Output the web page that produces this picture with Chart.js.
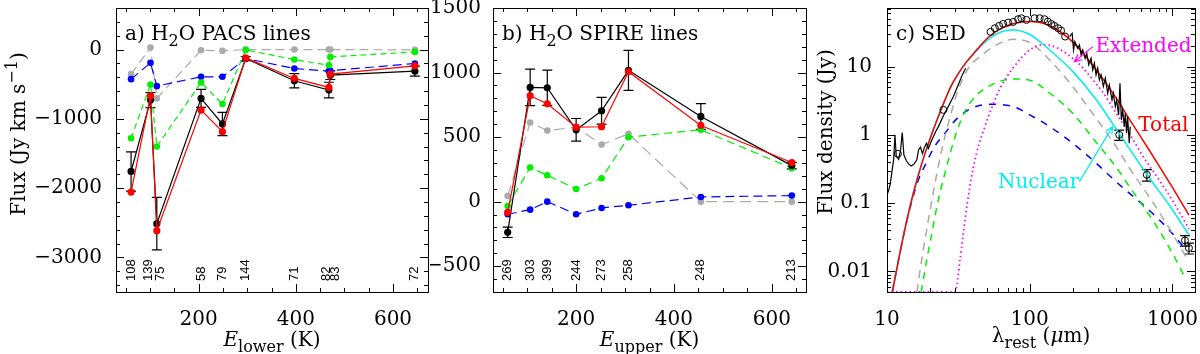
<!DOCTYPE html>
<html>
<head>
<meta charset="utf-8">
<title>H2O lines and SED</title>
<script src="https://cdn.jsdelivr.net/npm/chart.js@4.4.1/dist/chart.umd.min.js"></script>
<style>
  body { margin: 0; background: #fff; }
  #wrap { position: relative; width: 1200px; height: 354px; }
  #wrap canvas { position: absolute; left: 0; top: 0; }
</style>
</head>
<body>
<div id="wrap">
  <canvas id="pacs" width="1200" height="354"></canvas>
  <canvas id="spire" width="1200" height="354"></canvas>
  <canvas id="sed" width="1200" height="354"></canvas>
</div>
<script>
// ---- a) H2O PACS lines (flux vs E_lower) ----
const pacsWave = ['108', '139', '75', '58', '79', '144', '71', '82', '83', '72'];
const pacsElow = [61, 101, 114, 205, 249, 297, 397, 468, 471, 645];
const pacsObs = [-1760, -729, -2513, -705, -1074, -130, -451, -585, -370, -312];
const pacsObsErr = [283, 108, 379, 130, 168, 30, 103, 113, 62, 72];
const pacsTotal = [-2058, -667, -2614, -873, -1185, -120, -417, -547, -355, -235];
const pacsGreen = [-1281, -504, -1400, -475, -787, -5, -144, -226, -106, -34];
const pacsBlue = [-427, -192, -528, -393, -393, -130, -273, -312, -305, -201];
const pacsGray = [-355, 29, -705, -10, -19, 0, 0, 0, 0, -5];

// ---- b) H2O SPIRE lines (flux vs E_upper) ----
const spireWave = ['269', '303', '399', '244', '273', '258', '248', '213'];
const spireEup = [60, 106, 141, 200, 252, 307, 455, 641];
const spireObs = [-238, 885, 882, 556, 704, 1017, 660, 279];
const spireObsErr = [40, 142, 137, 88, 103, 155, 100, 25];
const spireTotal = [-83, 820, 758, 577, 580, 1006, 590, 303];
const spireGreen = [-34, 264, 204, 98, 181, 499, 557, 259];
const spireBlue = [-98, -62, 0, -98, -49, -28, 36, 47];
const spireGray = [44, 613, 551, 577, 442, 525, 0, 0];

// ---- c) SED ----
const irsWave = [10.0, 10.26, 10.54, 10.83, 11.13, 11.37, 11.61, 12.06, 12.45, 12.79, 13.13, 13.64, 14.16, 14.77, 15.42, 16.18,
  16.63, 17.17, 17.73, 18.31, 18.9, 19.5, 20.27, 21.15, 21.96, 22.92, 24.84, 26.9, 29.2, 31.6, 33.7, 35.6];
const irsFlux = [0.132, 0.153, 0.191, 0.29, 0.43, 1.0, 0.49, 0.44, 0.6, 1.08, 0.51, 0.42, 0.376, 0.35, 0.37, 0.43,
  0.6, 0.66, 0.53, 0.66, 0.755, 0.63, 0.77, 0.944, 1.12, 1.32, 1.9, 2.6, 3.64, 5.4, 7.55, 9.46];
const ftsWave = [190.3, 198.4, 202.8, 207.2, 217.3, 223.2, 229.2, 235.4, 244.5, 251.1, 259.3, 269.2, 276.5, 284, 291.7, 299.6,
  307.7, 316.2, 328.3, 338.8, 352, 361.5, 377.4, 385.4, 398.1, 406.7, 419.8, 429.2, 438.6, 448.2, 460.2, 467.4, 477.5, 485.4, 498.5, 506.7];
const ftsFlux = [27.5, 30.7, 17.5, 23.2, 18.5, 20.7, 14.8, 17.5, 13.2, 15.7, 10.6, 13.2, 8.9, 11.2, 7.55, 9.45,
  6.38, 7.55, 5.1, 6.75, 4.07, 5.39, 3.25, 4.07, 2.6, 3.25, 1.96, 5.7, 1.66, 2.32, 1.32, 2.07, 1.06, 1.85, 0.755, 1.32];
const photWave = [11.93, 24.84, 53.2, 57.0, 61.1, 65.2, 70.6, 76.5, 82.9, 87.5, 94.8, 108, 117.5, 127, 134, 142, 149, 158, 166, 177,
  424, 662, 1225, 1306];
const photFlux = [0.527, 2.32, 32.2, 36.4, 39.4, 42.1, 44.0, 45.0, 49.3, 51, 48.2, 51, 51, 49.3, 45.6, 42, 39.4, 36.4, 33.6, 27.5,
  1.0, 0.26, 0.0284, 0.022];
const photErr = [0, 0, 0, 0, 0, 0, 0, 0, 0, 0, 0, 0, 0, 0, 0, 0, 0, 0, 0, 0, 0.17, 0.05, 0.005, 0.004];

const totalWave = [10.9, 12.05, 13.4, 14.9, 16.6, 18.5, 20.6, 22.9, 25.5, 28.4, 31.6, 36.2, 42, 47.2, 52.6, 61.8, 70, 80.7, 100,
  138, 200, 292, 402, 499, 687, 898, 1000, 1307];
const totalFlux = [0.005, 0.0148, 0.043, 0.112, 0.26, 0.54, 1.03, 1.85, 3.25, 5.4, 7.9, 11.8, 17, 22.5, 28, 35, 40, 43.5, 45.5,
  39.5, 23, 9, 3.5, 1.7, 0.6, 0.245, 0.17, 0.067];
const nuclearWave = [10.9, 12.05, 13.4, 14.9, 16.6, 18.5, 20.6, 22.9, 25.5, 28.4, 31.6, 36.2, 42, 47.2, 52.6, 58.6, 67, 76.5, 100,
  138, 200, 292, 382, 499, 665, 1000, 1307];
const nuclearFlux = [0.005, 0.0148, 0.043, 0.112, 0.26, 0.54, 1.03, 1.85, 3.25, 5.4, 7.9, 11.8, 16.8, 21.5, 26, 30, 33.5, 34.4, 29.5,
  17.5, 8.5, 3.3, 1.45, 0.63, 0.26, 0.08, 0.034];
const extendedWave = [10, 30, 32.5, 35.2, 38.1, 42.4, 48.5, 54.6, 62, 76.4, 100, 124, 138, 171, 206, 236, 292, 325, 402, 499,
  617, 852, 1000, 1307];
const extendedFlux = [0.005, 0.005, 0.0148, 0.057, 0.175, 0.54, 1.32, 2.6, 4.8, 9.5, 17.5, 20.8, 20.5, 16.8, 12.5, 9.5, 5.6, 4.2,
  2.1, 1.05, 0.5, 0.185, 0.11, 0.042];
const grayWave = [16.2, 17.5, 19.5, 21.7, 24.2, 27.7, 31.6, 37, 44.8, 58.6, 76.4, 100, 138, 200, 292, 402, 499, 725, 1000, 1240];
const grayFlux = [0.005, 0.0148, 0.057, 0.196, 0.6, 1.85, 4.56, 9.3, 14, 20.8, 25, 22.5, 12.5, 5.1, 1.75, 0.68, 0.33, 0.105, 0.036, 0.0165];
const greenWave = [17.35, 19.0, 20.6, 22.9, 26.2, 30, 35.2, 41.3, 54, 76.4, 100, 138, 200, 292, 402, 499, 725, 1000, 1240];
const greenFlux = [0.005, 0.0148, 0.036, 0.112, 0.343, 0.944, 2.2, 3.6, 5.4, 6.6, 6.3, 4.1, 2.07, 0.78, 0.34, 0.175, 0.057, 0.0185, 0.0078];
const blueWave = [10.9, 12.05, 13.4, 14.9, 16.6, 18.5, 21.7, 25.5, 31.6, 39.2, 52.6, 76.4, 100, 138, 200, 292, 402, 499, 725, 1000, 1240];
const blueFlux = [0.005, 0.0148, 0.043, 0.105, 0.22, 0.36, 0.69, 1.06, 1.81, 2.46, 2.8, 2.6, 1.96, 1.32, 0.755, 0.385, 0.207, 0.14,
  0.071, 0.036, 0.0207];

const sedNotes = [
  { text: 'Extended', color: '#ff00ff', at: [289, 16.4], from: [277, 19.6], to: [206, 11.8] },
  { text: 'Total', color: '#ff0000', at: [577, 1.12] },
  { text: 'Nuclear', color: '#00eeee', at: [59.9, 0.166], from: [223, 0.207], to: [381, 1.32] }
];

const SERIF = '"DejaVu Serif", serif';
const SANS = '"Liberation Sans", Arial, sans-serif';
Chart.defaults.font.family = SERIF;
Chart.defaults.color = '#000';

function pts(xs, ys) {
  return xs.map((x, i) => ({ x: x, y: ys[i] }));
}

function markerLine(xs, ys, color, dash, r) {
  return {
    data: pts(xs, ys), borderColor: color, backgroundColor: color, borderWidth: 1.2,
    borderDash: dash, pointRadius: r, pointBorderWidth: 0, pointBackgroundColor: color, tension: 0
  };
}

function curve(xs, ys, color, dash, width) {
  return {
    data: pts(xs, ys), borderColor: color, borderWidth: width, borderDash: dash,
    pointRadius: 0, cubicInterpolationMode: 'monotone'
  };
}

function axis(type, min, max, major, labelFn, pad, fit) {
  return {
    type: type, min: min, max: max,
    grid: { display: false, drawTicks: false },
    border: { display: false },
    ticks: { color: '#000', font: { family: SERIF, size: 20 }, padding: pad, autoSkip: false,
      maxRotation: 0, minRotation: 0, callback: labelFn },
    afterBuildTicks: s => { s.ticks = major.map(v => ({ value: v })); },
    afterFit: s => {
      fit(s);
      s.paddingTop = 0; s.paddingBottom = 0; s.paddingLeft = 0; s.paddingRight = 0;
    }
  };
}

const minusLabel = v => (v < 0 ? '\u2212' + Math.abs(v) : String(v));

function stepList(from, to, step, skip) {
  const out = [];
  for (let v = from; v <= to; v += step) if (v % skip !== 0) out.push(v);
  return out;
}

function logMinors(lo, hi) {
  const out = [];
  for (let d = lo; d < hi; d *= 10) for (let k = 2; k <= 9; k++) out.push(+(k * d).toPrecision(3));
  return out;
}

// rich text: parts = [{t, sub, sup, italic, color}]
function rich(ctx, parts, x, y, size, align, angle, color) {
  const fontOf = p => (p.italic ? 'italic ' : '') + ((p.sub || p.sup) ? Math.round(size * 0.78) : size) + 'px ' + SERIF;
  ctx.save();
  ctx.translate(x, y);
  if (angle) ctx.rotate(angle);
  let w = 0;
  parts.forEach(p => { ctx.font = fontOf(p); w += ctx.measureText(p.t).width; });
  let cx = align === 'center' ? -w / 2 : 0;
  ctx.textAlign = 'left';
  ctx.textBaseline = 'alphabetic';
  parts.forEach(p => {
    ctx.font = fontOf(p);
    ctx.fillStyle = p.color || color || '#000';
    ctx.fillText(p.t, cx, p.sub ? size * 0.3 : p.sup ? -size * 0.42 : 0);
    cx += ctx.measureText(p.t).width;
  });
  ctx.restore();
}

function arrow(ctx, x1, y1, x2, y2, color) {
  const ang = Math.atan2(y2 - y1, x2 - x1);
  ctx.save();
  ctx.strokeStyle = color;
  ctx.lineWidth = 1.2;
  ctx.beginPath();
  ctx.moveTo(x1, y1); ctx.lineTo(x2, y2);
  ctx.moveTo(x2 - 8 * Math.cos(ang - 0.45), y2 - 8 * Math.sin(ang - 0.45));
  ctx.lineTo(x2, y2);
  ctx.lineTo(x2 - 8 * Math.cos(ang + 0.45), y2 - 8 * Math.sin(ang + 0.45));
  ctx.stroke();
  ctx.restore();
}

const decorCfg = {};

const decor = {
  id: 'decor',
  beforeDatasetsDraw(chart) {
    const cfg = decorCfg[chart.canvas.id];
    const { ctx, scales: { x, y } } = chart;
    ctx.save();
    ctx.strokeStyle = '#000';
    ctx.lineWidth = 1.2;
    ctx.beginPath();
    cfg.errors.forEach(eb => {
      eb.xs.forEach((xv, i) => {
        if (!eb.err[i]) return;
        const px = x.getPixelForValue(xv);
        const top = y.getPixelForValue(eb.ys[i] + eb.err[i]);
        const bot = y.getPixelForValue(eb.ys[i] - eb.err[i]);
        ctx.moveTo(px, top); ctx.lineTo(px, bot);
        ctx.moveTo(px - 5, top); ctx.lineTo(px + 5, top);
        ctx.moveTo(px - 5, bot); ctx.lineTo(px + 5, bot);
      });
    });
    ctx.stroke();
    ctx.restore();
  },
  afterDraw(chart) {
    const cfg = decorCfg[chart.canvas.id];
    const { ctx, chartArea: a, scales: { x, y } } = chart;
    ctx.save();
    ctx.strokeStyle = '#000';
    ctx.lineWidth = 1;
    ctx.strokeRect(a.left + 0.5, a.top + 0.5, a.right - a.left, a.bottom - a.top);
    ctx.beginPath();
    const vt = (v, len) => {
      const p = Math.round(x.getPixelForValue(v)) + 0.5;
      ctx.moveTo(p, a.bottom); ctx.lineTo(p, a.bottom - len);
      ctx.moveTo(p, a.top); ctx.lineTo(p, a.top + len);
    };
    const ht = (v, len) => {
      const p = Math.round(y.getPixelForValue(v)) + 0.5;
      ctx.moveTo(a.left, p); ctx.lineTo(a.left + len, p);
      ctx.moveTo(a.right, p); ctx.lineTo(a.right - len, p);
    };
    cfg.xMajor.forEach(v => vt(v, 8));
    cfg.xMinor.forEach(v => vt(v, 4));
    cfg.yMajor.forEach(v => ht(v, 8));
    cfg.yMinor.forEach(v => ht(v, 4));
    ctx.stroke();

    // rotated line labels along the bottom
    if (cfg.lineLabels) {
      const L = cfg.lineLabels;
      ctx.font = '13px ' + SANS;
      ctx.fillStyle = '#000';
      L.xs.forEach((xv, i) => {
        ctx.save();
        ctx.translate(x.getPixelForValue(xv) + (L.shift ? L.shift[i] : 0), a.bottom - 11);
        ctx.rotate(-Math.PI / 2);
        ctx.textAlign = 'left';
        ctx.textBaseline = 'middle';
        ctx.fillText(L.labels[i], 0, 0);
        ctx.restore();
      });
    }

    rich(ctx, cfg.panel, a.left + 9, a.top + 32, 20, 'left');
    rich(ctx, cfg.xTitle, (a.left + a.right) / 2, cfg.xTitleY, 20, 'center');
    if (cfg.yTitle) rich(ctx, cfg.yTitle, cfg.yTitleX, cfg.yTitleY, 20, 'center', -Math.PI / 2);

    (cfg.notes || []).forEach(n => {
      if (n.from) arrow(ctx, x.getPixelForValue(n.from[0]), y.getPixelForValue(n.from[1]),
        x.getPixelForValue(n.to[0]), y.getPixelForValue(n.to[1]), n.color);
      rich(ctx, [{ t: n.text }], x.getPixelForValue(n.at[0]), y.getPixelForValue(n.at[1]), 20, 'left', 0, n.color);
    });
    ctx.restore();
  }
};

function baseOptions(padding, xAxis, yAxis) {
  return {
    responsive: false,
    animation: false,
    layout: { padding: padding },
    plugins: { legend: { display: false }, tooltip: { enabled: false } },
    scales: { x: xAxis, y: yAxis }
  };
}

const GREEN = '#00f000', BLUE = '#0000ff', GRAY = '#aaaaaa', RED = '#ff0000';

// panel a
decorCfg.pacs = {
  xMajor: [200, 400, 600], xMinor: stepList(50, 650, 50, 200),
  yMajor: [0, -1000, -2000, -3000], yMinor: stepList(-3400, 600, 200, 1000),
  errors: [{ xs: pacsElow, ys: pacsObs, err: pacsObsErr }],
  lineLabels: { xs: pacsElow, labels: pacsWave, shift: [0, -2, 4, 0, 0, 0, 0, -2, 5, 0] },
  panel: [{ t: 'a) H' }, { t: '2', sub: true }, { t: 'O PACS lines' }],
  xTitle: [{ t: 'E', italic: true }, { t: 'lower', sub: true }, { t: ' (K)' }], xTitleY: 346,
  yTitle: [{ t: 'Flux (Jy km s' }, { t: '\u22121', sup: true }, { t: ')' }], yTitleX: 25, yTitleY: 134
};
new Chart(document.getElementById('pacs'), {
  type: 'line',
  data: { datasets: [
    markerLine(pacsElow, pacsTotal, RED, [], 3.6),
    markerLine(pacsElow, pacsObs, '#000', [], 3.6),
    markerLine(pacsElow, pacsGreen, GREEN, [6, 4], 3.3),
    markerLine(pacsElow, pacsBlue, BLUE, [9, 5], 3.3),
    markerLine(pacsElow, pacsGray, GRAY, [9, 5], 3.3)
  ] },
  options: baseOptions({ left: 0, right: 772, top: 8, bottom: 0 },
    axis('linear', 30, 672, [200, 400, 600], v => String(v), 16, s => { s.height = 62; }),
    axis('linear', -3500, 600, [0, -1000, -2000, -3000], minusLabel, 14, s => { s.width = 116; })),
  plugins: [decor]
});

// panel b
decorCfg.spire = {
  xMajor: [200, 400, 600], xMinor: stepList(50, 650, 50, 200),
  yMajor: [-500, 0, 500, 1000, 1500], yMinor: stepList(-700, 1500, 100, 500),
  errors: [{ xs: spireEup, ys: spireObs, err: spireObsErr }],
  lineLabels: { xs: spireEup, labels: spireWave },
  panel: [{ t: 'b) H' }, { t: '2', sub: true }, { t: 'O SPIRE lines' }],
  xTitle: [{ t: 'E', italic: true }, { t: 'upper', sub: true }, { t: ' (K)' }], xTitleY: 346
};
new Chart(document.getElementById('spire'), {
  type: 'line',
  data: { datasets: [
    markerLine(spireEup, spireTotal, RED, [], 3.6),
    markerLine(spireEup, spireObs, '#000', [], 3.6),
    markerLine(spireEup, spireGreen, GREEN, [8, 5], 3.3),
    markerLine(spireEup, spireBlue, BLUE, [9, 5], 3.3),
    markerLine(spireEup, spireGray, GRAY, [11, 6], 3.3)
  ] },
  options: baseOptions({ left: 430, right: 394, top: 8, bottom: 0 },
    axis('linear', 30, 670, [200, 400, 600], v => String(v), 16, s => { s.height = 62; }),
    axis('linear', -700, 1500, [-500, 0, 500, 1000, 1500], minusLabel, 12, s => { s.width = 63; })),
  plugins: [decor]
});

// panel c
decorCfg.sed = {
  xMajor: [10, 100, 1000], xMinor: logMinors(10, 1000),
  yMajor: [0.01, 0.1, 1, 10], yMinor: [0.006, 0.007, 0.008, 0.009].concat(logMinors(0.01, 10), [20, 30, 40, 50, 60, 70]),
  errors: [{ xs: photWave, ys: photFlux, err: photErr }],
  panel: [{ t: 'c) SED' }],
  xTitle: [{ t: '\u03bb' }, { t: 'rest', sub: true }, { t: ' (' }, { t: '\u03bc', italic: true }, { t: 'm)' }], xTitleY: 342,
  yTitle: [{ t: 'Flux density (Jy)' }], yTitleX: 832, yTitleY: 132,
  notes: sedNotes
};
new Chart(document.getElementById('sed'), {
  type: 'line',
  data: { datasets: [
    { data: pts(photWave, photFlux), showLine: false, pointRadius: 3.5, pointBorderWidth: 1,
      pointBorderColor: '#000', pointBackgroundColor: 'rgba(0,0,0,0)' },
    { data: pts(irsWave, irsFlux), borderColor: '#000', borderWidth: 1.2, pointRadius: 0 },
    { data: pts(ftsWave, ftsFlux), borderColor: '#000', borderWidth: 1.2, pointRadius: 0 },
    curve(totalWave, totalFlux, RED, [], 1.5),
    curve(nuclearWave, nuclearFlux, '#00eeee', [], 1.5),
    curve(extendedWave, extendedFlux, '#ff00ff', [1.5, 3], 1.8),
    curve(grayWave, grayFlux, GRAY, [8, 6], 1.5),
    curve(greenWave, greenFlux, GREEN, [7, 6], 1.5),
    curve(blueWave, blueFlux, BLUE, [7, 7], 1.5)
  ] },
  options: baseOptions({ left: 800, right: 4, top: 8, bottom: 0 },
    axis('logarithmic', 10, 1440, [10, 100, 1000], v => String(v), 16, s => { s.height = 62; }),
    axis('logarithmic', 0.005, 72, [0.01, 0.1, 1, 10], v => String(v), 15, s => { s.width = 87; })),
  plugins: [decor]
});
</script>
</body>
</html>
